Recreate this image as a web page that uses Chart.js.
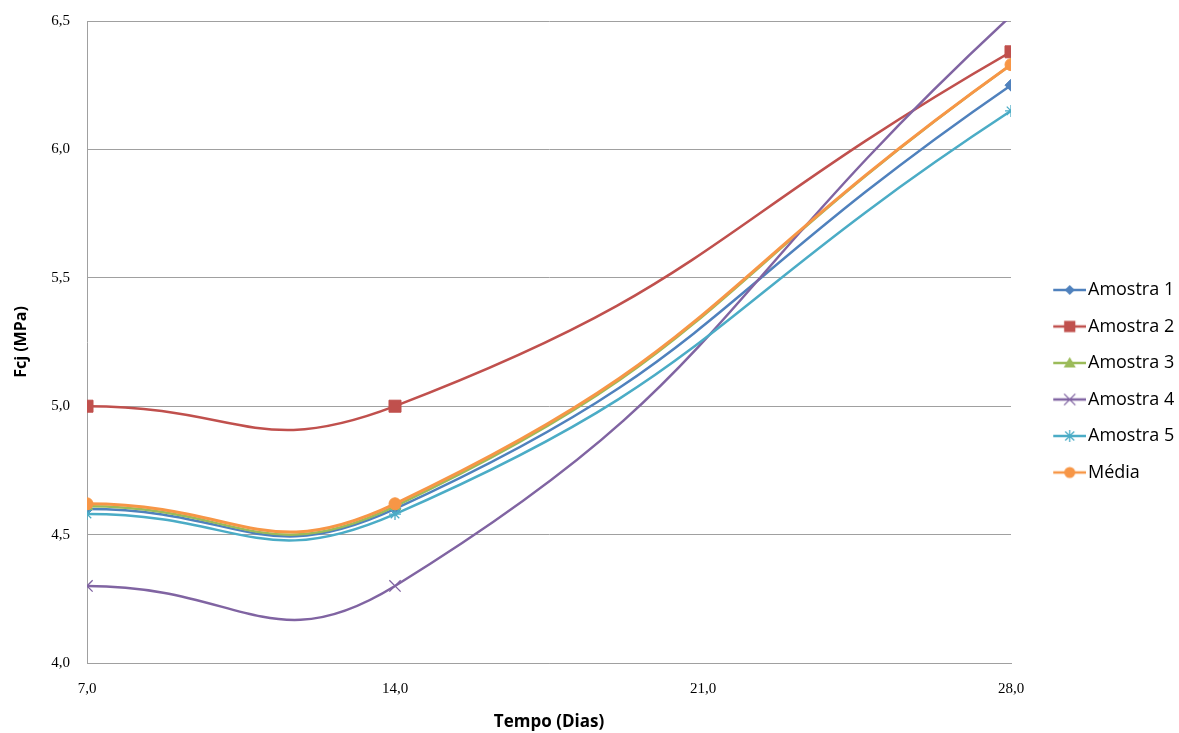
<!DOCTYPE html>
<html>
<head>
<meta charset="utf-8">
<script src="https://cdn.jsdelivr.net/npm/chart.js@4/dist/chart.umd.min.js"></script>
<style>
html,body{margin:0;padding:0;background:#fff;}
#wrap{width:1179px;height:733px;}
</style>
</head>
<body>
<div id="wrap"><canvas id="c" width="1179" height="733"></canvas></div>
<script>
const days = [7, 14, 28];
const amostra1 = [4.60, 4.60, 6.25];
const amostra2 = [5.00, 5.00, 6.38];
const amostra3 = [4.61, 4.61, 6.33];
const amostra4 = [4.30, 4.30, 6.52];
const amostra5 = [4.58, 4.58, 6.15];
const media = [4.62, 4.62, 6.33];
const seriesNames = ['Amostra 1', 'Amostra 2', 'Amostra 3', 'Amostra 4', 'Amostra 5', 'Média'];
const xTicks = [7, 14, 21, 28];
const yTicks = [4.0, 4.5, 5.0, 5.5, 6.0, 6.5];

const seriesValues = [amostra1, amostra2, amostra3, amostra4, amostra5, media];
const colors = ['#4F81BD', '#C0504D', '#9BBB59', '#8064A2', '#4BACC6', '#F79646'];
const styles = ['rectRot', 'rect', 'triangle', 'crossRot', 'star', 'circle'];
const radii = [6, 8.5, 6.5, 8, 6, 6];
const lineWidths = [2.5, 2.5, 2.5, 2.5, 2.5, 3];

function fmt(v){ return Number(v).toFixed(1).replace('.', ','); }

function drawMarker(ctx, style, x, y, r, color){
  ctx.fillStyle = color; ctx.strokeStyle = color; ctx.lineWidth = 1.3;
  ctx.beginPath();
  if (style === 'rectRot') {
    ctx.moveTo(x, y - r); ctx.lineTo(x + r, y); ctx.lineTo(x, y + r); ctx.lineTo(x - r, y); ctx.closePath(); ctx.fill();
  } else if (style === 'rect') {
    ctx.rect(x - r*0.75, y - r*0.75, r*1.5, r*1.5); ctx.fill();
  } else if (style === 'triangle') {
    ctx.moveTo(x, y - r); ctx.lineTo(x + r, y + r*0.75); ctx.lineTo(x - r, y + r*0.75); ctx.closePath(); ctx.fill();
  } else if (style === 'crossRot') {
    const d = r*0.8;
    ctx.moveTo(x-d,y-d); ctx.lineTo(x+d,y+d); ctx.moveTo(x+d,y-d); ctx.lineTo(x-d,y+d); ctx.stroke();
  } else if (style === 'star') {
    const d = r*0.75;
    ctx.moveTo(x-d,y-d); ctx.lineTo(x+d,y+d); ctx.moveTo(x+d,y-d); ctx.lineTo(x-d,y+d);
    ctx.moveTo(x,y-r); ctx.lineTo(x,y+r); ctx.stroke();
  } else {
    ctx.arc(x, y, r, 0, Math.PI*2); ctx.fill();
  }
}

const legendMarkerR = [5, 7.5, 6, 7, 6, 5.5];
function legendImage(i){
  const cv = document.createElement('canvas');
  cv.width = 64; cv.height = 18;
  const ctx = cv.getContext('2d');
  ctx.strokeStyle = colors[i]; ctx.lineWidth = 2.5;
  ctx.beginPath(); ctx.moveTo(31, 9); ctx.lineTo(64, 9); ctx.stroke();
  drawMarker(ctx, styles[i], 47.5, 9, legendMarkerR[i], colors[i]);
  return cv;
}
const legendImgs = seriesNames.map((n, i) => legendImage(i));

const datasets = seriesNames.map((name, i) => ({
  label: name,
  data: days.map((d, k) => ({x: d, y: seriesValues[i][k]})),
  borderColor: colors[i],
  backgroundColor: colors[i],
  borderWidth: lineWidths[i],
  pointStyle: styles[i],
  pointRadius: radii[i],
  pointHoverRadius: radii[i],
  pointBorderWidth: (styles[i] === 'crossRot' || styles[i] === 'star') ? 1.3 : 1,
  pointBackgroundColor: colors[i],
  pointBorderColor: colors[i],
  tension: 0.5,
  fill: false,
  order: seriesNames.length - 1 - i
}));

new Chart(document.getElementById('c'), {
  type: 'line',
  data: { datasets },
  options: {
    responsive: false,
    animation: false,
    layout: { padding: { top: 21, right: 0, bottom: 0, left: 0 } },
    plugins: {
      tooltip: { enabled: false },
      legend: {
        position: 'right',
        align: 'center',
        maxWidth: 168,
        title: { display: true, text: ' ', font: { size: 6, lineHeight: 1 }, padding: { top: 1.25, bottom: 1.25 } },
        labels: {
          usePointStyle: true,
          pointStyleWidth: 49.5,
          padding: 18.5,
          color: '#000',
          font: { family: "'Open Sans', 'DejaVu Sans', sans-serif", size: 18 },
          sort: (a, b) => a.datasetIndex - b.datasetIndex,
          generateLabels: (chart) => {
            const items = Chart.defaults.plugins.legend.labels.generateLabels(chart);
            items.forEach(it => { it.pointStyle = legendImgs[it.datasetIndex]; });
            return items;
          }
        }
      }
    },
    scales: {
      x: {
        type: 'linear',
        min: 7, max: 28,
        afterBuildTicks: (s) => { s.ticks = xTicks.map(v => ({value: v})); },
        afterFit: (s) => { s.height = 70; },
        grid: { display: false, drawTicks: false },
        border: { display: true, color: '#a0a0a0', width: 1 },
        ticks: {
          padding: 17,
          color: '#000',
          font: { family: "'Liberation Serif', 'DejaVu Serif', serif", size: 15 },
          callback: (v) => fmt(v)
        },
        title: {
          display: true,
          text: 'Tempo (Dias)',
          color: '#000',
          font: { family: "'Open Sans', sans-serif", size: 17, weight: 'bold' },
          padding: { top: 0, bottom: 1 }
        }
      },
      y: {
        min: 4, max: 6.5,
        afterBuildTicks: (s) => { s.ticks = yTicks.map(v => ({value: v})); },
        afterFit: (s) => { s.width = 87; },
        grid: { display: true, color: '#a0a0a0', lineWidth: 1, drawTicks: true, tickLength: 17, tickColor: 'rgba(0,0,0,0)' },
        border: { display: true, color: '#a0a0a0', width: 1 },
        ticks: {
          padding: 0,
          color: '#000',
          font: { family: "'Liberation Serif', 'DejaVu Serif', serif", size: 15 },
          callback: (v) => fmt(v)
        },
        title: {
          display: true,
          text: 'Fcj (MPa)',
          color: '#000',
          font: { family: "'Open Sans', sans-serif", size: 16, weight: 'bold' },
          padding: { top: 12, bottom: 0 }
        }
      }
    }
  }
});
</script>
</body>
</html>
